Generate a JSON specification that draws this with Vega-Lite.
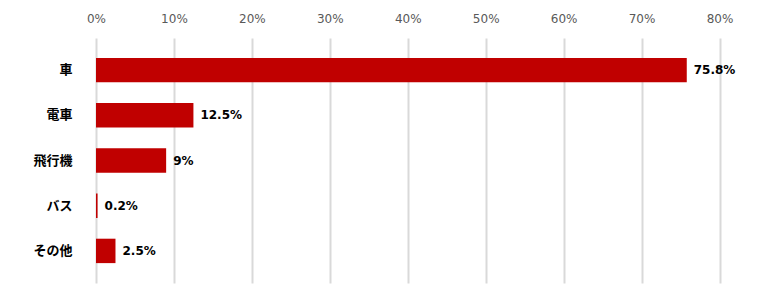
{
  "$schema": "https://vega.github.io/schema/vega-lite/v6.json",
  "width": 623.5,
  "height": 245,
  "autosize": {"type": "none"},
  "padding": {"left": 96, "top": 38, "right": 40.5, "bottom": 10},
  "background": "white",
  "config": {"view": {"stroke": null}},
  "data": {"values": [
    {"mode": "車", "share": 0.758},
    {"mode": "電車", "share": 0.125},
    {"mode": "飛行機", "share": 0.09},
    {"mode": "バス", "share": 0.002},
    {"mode": "その他", "share": 0.025}
  ]},
  "encoding": {
    "y": {"field": "mode", "type": "nominal", "sort": null,
      "scale": {"paddingInner": 0.46, "paddingOuter": 0.44},
      "axis": {"title": null, "domain": false, "ticks": false, "labelPadding": 24,
        "labelFont": "Noto Sans CJK JP", "labelFontWeight": "bold", "labelFontSize": 13, "labelColor": "#000000"}},
    "x": {"field": "share", "type": "quantitative",
      "scale": {"domain": [0, 0.8], "nice": false},
      "axis": {"orient": "top", "title": null, "format": ".0%", "values": [0,0.1,0.2,0.3,0.4,0.5,0.6,0.7,0.8],
        "domain": false, "ticks": false, "labelPadding": 13, "labelOverlap": false, "labelFlush": false,
        "labelFont": "DejaVu Sans", "labelFontSize": 12, "labelColor": "#595959",
        "grid": true, "gridColor": "#d9d9d9", "gridWidth": 2}}
  },
  "layer": [
    {"mark": {"type": "bar", "color": "#c00000"}},
    {"mark": {"type": "text", "align": "left", "dx": 7, "font": "DejaVu Sans", "fontWeight": "bold", "fontSize": 12, "color": "#000000"},
      "encoding": {"text": {"field": "share", "type": "quantitative", "format": ".1~%"}}}
  ]
}
